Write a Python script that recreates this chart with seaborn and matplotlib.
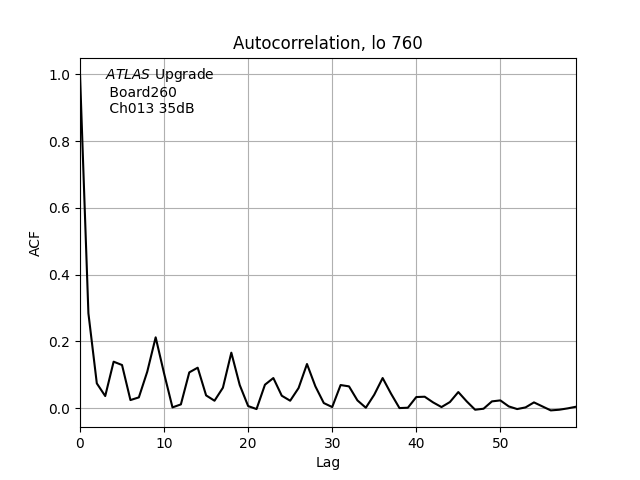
import matplotlib
matplotlib.use("Agg")
import matplotlib.pyplot as plt
import seaborn as sns
import pandas as pd

lags = list(range(60))
acf = [1.0, 0.284, 0.074, 0.036, 0.139, 0.129, 0.024, 0.032, 0.109, 0.212,
       0.104, 0.002, 0.011, 0.107, 0.121, 0.038, 0.022, 0.061, 0.166, 0.069,
       0.006, -0.003, 0.070, 0.090, 0.037, 0.022, 0.060, 0.132, 0.065, 0.015,
       0.003, 0.069, 0.065, 0.023, 0.001, 0.040, 0.090, 0.043, 0.000, 0.001,
       0.033, 0.034, 0.017, 0.003, 0.018, 0.048, 0.020, -0.005, -0.002, 0.020,
       0.023, 0.005, -0.003, 0.002, 0.017, 0.005, -0.007, -0.005, -0.001, 0.004]

df = pd.DataFrame({"Lag": lags, "ACF": acf})

fig, ax = plt.subplots(figsize=(6.4, 4.8), dpi=100)
sns.lineplot(data=df, x="Lag", y="ACF", color="black", ax=ax)
ax.set_xlim(0, 59)
ax.grid(True)
ax.set_title("Autocorrelation, lo 760")
ax.set_xlabel("Lag")
ax.set_ylabel("ACF")
ax.text(0.05, 0.978, "$\\it{ATLAS}$ Upgrade\n Board260\n Ch013 35dB",
        transform=ax.transAxes, va="top", ha="left")
plt.savefig("out.png")
